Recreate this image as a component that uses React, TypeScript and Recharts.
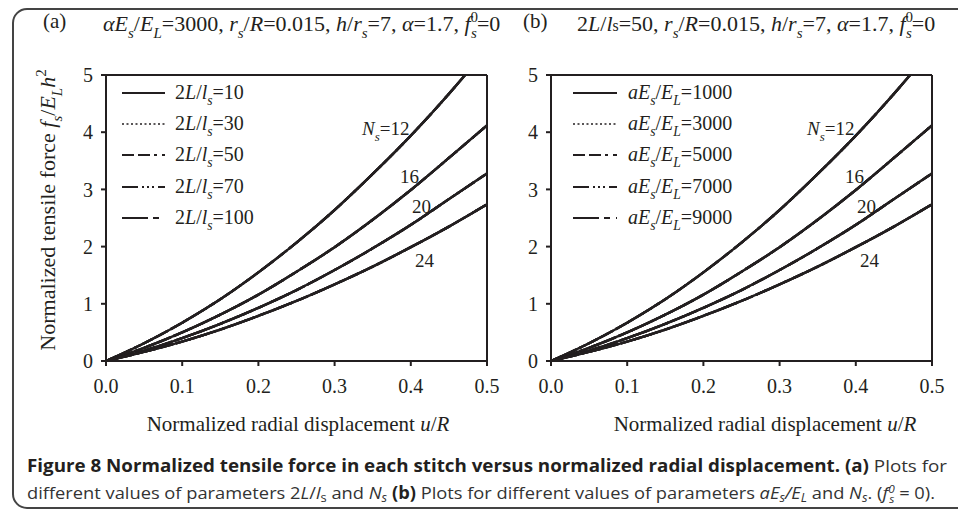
import React from 'react';
import { LineChart, Line, XAxis, YAxis } from 'recharts';

// ---- data ----
const U = [0, 0.05, 0.1, 0.15, 0.2, 0.25, 0.3, 0.35, 0.4, 0.45, 0.5];
const N12 = [0, 0.31, 0.67, 1.08, 1.55, 2.07, 2.64, 3.27, 3.94, 4.67, 5.46];
const N16 = [0, 0.23, 0.5, 0.81, 1.16, 1.56, 1.99, 2.47, 2.99, 3.55, 4.12];
const N20 = [0, 0.18, 0.4, 0.65, 0.93, 1.24, 1.59, 1.97, 2.38, 2.83, 3.28];
const N24 = [0, 0.16, 0.34, 0.55, 0.79, 1.05, 1.34, 1.65, 1.99, 2.35, 2.74];
const X_TICKS = [0, 0.1, 0.2, 0.3, 0.4, 0.5];
const Y_TICKS = [0, 1, 2, 3, 4, 5];
const NS_LABELS = ['12', '16', '20', '24'];
const LEGEND_A = ['10', '30', '50', '70', '100'];
const LEGEND_B = ['1000', '3000', '5000', '7000', '9000'];
const DASHES = ['', '2 2.5', '12 4 12 4 3 5', '16 4 2 3 2 3 2 4', '26 5 6 6'];

const rows = U.map((u, i) => ({ u, n12: N12[i], n16: N16[i], n20: N20[i], n24: N24[i] }));
const KEYS = ['n12', 'n16', 'n20', 'n24'];

const SERIF = "'Liberation Serif', 'DejaVu Serif', serif";
const SANS = "'Liberation Sans Narrow', 'Open Sans', sans-serif";
const INK = '#231f20';

type Seg = { t: string; i?: boolean; sub?: boolean; sup?: boolean; dx?: number; small?: boolean; b?: boolean };

function Rich({ x, y, segs, size, anchor, family, transform, fill }: any) {
  let shift = 0;
  const spans = segs.map((s: Seg, k: number) => {
    let target = 0;
    if (s.sub) target = size * 0.32;
    if (s.sup) target = -size * 0.42;
    const dy = target - shift;
    shift = target;
    const fs = s.sub || s.sup ? size * 0.68 : s.small ? size * 0.72 : size;
    return (
      <tspan
        key={k}
        dy={dy || undefined}
        dx={s.dx}
        fontSize={fs}
        fontStyle={s.i ? 'italic' : 'normal'}
        fontWeight={s.b ? 'bold' : 'normal'}
      >
        {s.t}
      </tspan>
    );
  });
  return (
    <text
      x={x}
      y={y}
      fontSize={size}
      fontFamily={family || SERIF}
      textAnchor={anchor || 'start'}
      fill={fill || INK}
      transform={transform}
    >
      {spans}
    </text>
  );
}

const tailSegs: Seg[] = [
  { t: ', ' },
  { t: 'r', i: true },
  { t: 's', i: true, sub: true },
  { t: '/' },
  { t: 'R', i: true },
  { t: '=0.015, ' },
  { t: 'h', i: true },
  { t: '/' },
  { t: 'r', i: true },
  { t: 's', i: true, sub: true },
  { t: '=7, ' },
  { t: 'α', i: true },
  { t: '=1.7, ' },
  { t: 'f', i: true },
  { t: '0', sup: true },
  { t: 's', i: true, sub: true, dx: -7 },
  { t: '=0' },
];

const headerA: Seg[] = [
  { t: 'α', i: true },
  { t: 'E', i: true },
  { t: 's', i: true, sub: true },
  { t: '/' },
  { t: 'E', i: true },
  { t: 'L', i: true, sub: true },
  { t: '=3000' },
  ...tailSegs,
];
const headerB: Seg[] = [
  { t: '2' },
  { t: 'L', i: true },
  { t: '/' },
  { t: 'l', i: true },
  { t: 's', small: true },
  { t: '=50' },
  ...tailSegs,
];

function Panel({ left, width, mLeft, mRight }: any) {
  return (
    <div style={{ position: 'absolute', left, top: 0 }}>
      <LineChart
        width={width}
        height={400}
        data={rows}
        margin={{ top: 74, right: mRight, bottom: 38, left: mLeft }}
      >
        <XAxis
          dataKey="u"
          type="number"
          domain={[0, 0.5]}
          ticks={X_TICKS}
          tickFormatter={(v: number) => v.toFixed(1)}
          height={1}
          tickSize={5}
          tickMargin={13}
          axisLine={{ stroke: INK, strokeWidth: 2 }}
          tickLine={{ stroke: INK, strokeWidth: 2 }}
          tick={{ fontSize: 20, fontFamily: SERIF, fill: INK }}
        />
        <XAxis
          xAxisId="top"
          dataKey="u"
          type="number"
          domain={[0, 0.5]}
          orientation="top"
          height={1}
          tick={false}
          tickLine={false}
          axisLine={{ stroke: INK, strokeWidth: 2 }}
        />
        <YAxis
          type="number"
          domain={[0, 5]}
          ticks={Y_TICKS}
          allowDataOverflow
          width={1}
          tickSize={5}
          tickMargin={8}
          axisLine={{ stroke: INK, strokeWidth: 2 }}
          tickLine={{ stroke: INK, strokeWidth: 2 }}
          tick={{ fontSize: 20, fontFamily: SERIF, fill: INK }}
        />
        <YAxis
          yAxisId="right"
          orientation="right"
          type="number"
          domain={[0, 5]}
          width={1}
          tick={false}
          tickLine={false}
          axisLine={{ stroke: INK, strokeWidth: 2 }}
        />
        {KEYS.map((k) =>
          DASHES.map((d, j) => (
            <Line
              key={k + j}
              dataKey={k}
              type="monotone"
              stroke={INK}
              strokeWidth={2.4}
              strokeDasharray={d || undefined}
              dot={false}
              activeDot={false}
              isAnimationActive={false}
            />
          ))
        )}
      </LineChart>
    </div>
  );
}

function Legend({ x0, x1, tx, items }: any) {
  const ys = [93, 124, 155, 187, 218];
  return (
    <g>
      {items.map((segs: Seg[], k: number) => (
        <g key={k}>
          <line
            x1={x0}
            x2={x1}
            y1={ys[k]}
            y2={ys[k]}
            stroke={INK}
            strokeWidth={k === 1 ? 1.6 : 2}
            strokeDasharray={DASHES[k] || undefined}
          />
          <Rich x={tx} y={ys[k] + 6} size={20} segs={segs} />
        </g>
      ))}
    </g>
  );
}

function NsLabels({ dx }: any) {
  const pos = [
    [362, 135],
    [400, 183],
    [412, 213],
    [415, 267],
  ];
  return (
    <g>
      {NS_LABELS.map((t, k) =>
        k === 0 ? (
          <Rich
            key={k}
            x={pos[k][0] + dx}
            y={pos[k][1]}
            size={19}
            segs={[{ t: 'N', i: true }, { t: 's', i: true, sub: true }, { t: '=' + t }]}
          />
        ) : (
          <Rich key={k} x={pos[k][0] + dx} y={pos[k][1]} size={19} segs={[{ t }]} />
        )
      )}
    </g>
  );
}

const xLabel: Seg[] = [{ t: 'Normalized radial displacement ' }, { t: 'u', i: true }, { t: '/' }, { t: 'R', i: true }];
const yLabel: Seg[] = [
  { t: 'Normalized tensile force ' },
  { t: 'f', i: true },
  { t: 's', i: true, sub: true },
  { t: '/' },
  { t: 'E', i: true },
  { t: 'L', i: true, sub: true },
  { t: 'h', i: true },
  { t: '2', sup: true },
];

export default function App() {
  const legA: Seg[][] = LEGEND_A.map((v) => [
    { t: '2' },
    { t: 'L', i: true },
    { t: '/' },
    { t: 'l', i: true },
    { t: 's', i: true, sub: true },
    { t: '=' + v },
  ]);
  const legB: Seg[][] = LEGEND_B.map((v) => [
    { t: 'aE', i: true },
    { t: 's', i: true, sub: true },
    { t: '/' },
    { t: 'E', i: true },
    { t: 'L', i: true, sub: true },
    { t: '=' + v },
  ]);
  return (
    <div style={{ position: 'absolute', left: 0, top: 0, width: 958, height: 516, background: '#fff', overflow: 'hidden' }}>
      <Panel left={0} width={500} mLeft={105} mRight={12} />
      <Panel left={480} width={478} mLeft={70} mRight={25} />
      <svg width={958} height={516} style={{ position: 'absolute', left: 0, top: 0, pointerEvents: 'none' }}>
        <rect x={13} y={9} width={1000} height={499} rx={14} ry={14} fill="none" stroke="#444" strokeWidth={2} />
        <text x={43} y={28} fontSize={21} fontFamily={SERIF} fill={INK}>(a)</text>
        <text x={523} y={28} fontSize={21} fontFamily={SERIF} fill={INK}>(b)</text>
        <Rich x={103} y={31} size={22} segs={headerA} />
        <Rich x={577} y={31} size={22} segs={headerB} />
        <Legend x0={122} x1={165} tx={175} items={legA} />
        <Legend x0={573} x1={617} tx={628} items={legB} />
        <NsLabels dx={0} />
        <NsLabels dx={445} />
        <Rich x={298} y={431} size={21} anchor="middle" segs={xLabel} />
        <Rich x={765} y={431} size={21} anchor="middle" segs={xLabel} />
        <Rich x={55} y={210} size={22} anchor="middle" segs={yLabel} transform="rotate(-90 55 210)" />
        <text x={27} y={472} fontSize={17} fontFamily={SANS} fill={INK} textLength={920} lengthAdjust="spacingAndGlyphs">
          <tspan fontWeight="bold">Figure 8 Normalized tensile force in each stitch versus normalized radial displacement. (a)</tspan>
          <tspan fill="#333"> Plots for</tspan>
        </text>
        <text x={27} y={499} fontSize={17} fontFamily={SANS} fill="#333" textLength={908} lengthAdjust="spacingAndGlyphs">
          <tspan>different values of parameters 2</tspan>
          <tspan fontStyle="italic">L</tspan>
          <tspan>/</tspan>
          <tspan fontStyle="italic">l</tspan>
          <tspan fontSize={12} dy={3}>s</tspan>
          <tspan dy={-3}> and </tspan>
          <tspan fontStyle="italic">N</tspan>
          <tspan fontSize={12} fontStyle="italic" dy={3}>s</tspan>
          <tspan dy={-3} fontWeight="bold" fill={INK}> (b)</tspan>
          <tspan> Plots for different values of parameters </tspan>
          <tspan fontStyle="italic">aE</tspan>
          <tspan fontSize={12} fontStyle="italic" dy={3}>s</tspan>
          <tspan dy={-3} fontStyle="italic">/E</tspan>
          <tspan fontSize={12} fontStyle="italic" dy={3}>L</tspan>
          <tspan dy={-3}> and </tspan>
          <tspan fontStyle="italic">N</tspan>
          <tspan fontSize={12} fontStyle="italic" dy={3}>s</tspan>
          <tspan dy={-3}>. (</tspan>
          <tspan fontStyle="italic">f</tspan>
          <tspan fontSize={11} fontStyle="italic" dy={-6}>0</tspan>
          <tspan fontSize={11} fontStyle="italic" dx={-5} dy={10}>s</tspan>
          <tspan dy={-4}> = 0).</tspan>
        </text>
      </svg>
    </div>
  );
}
